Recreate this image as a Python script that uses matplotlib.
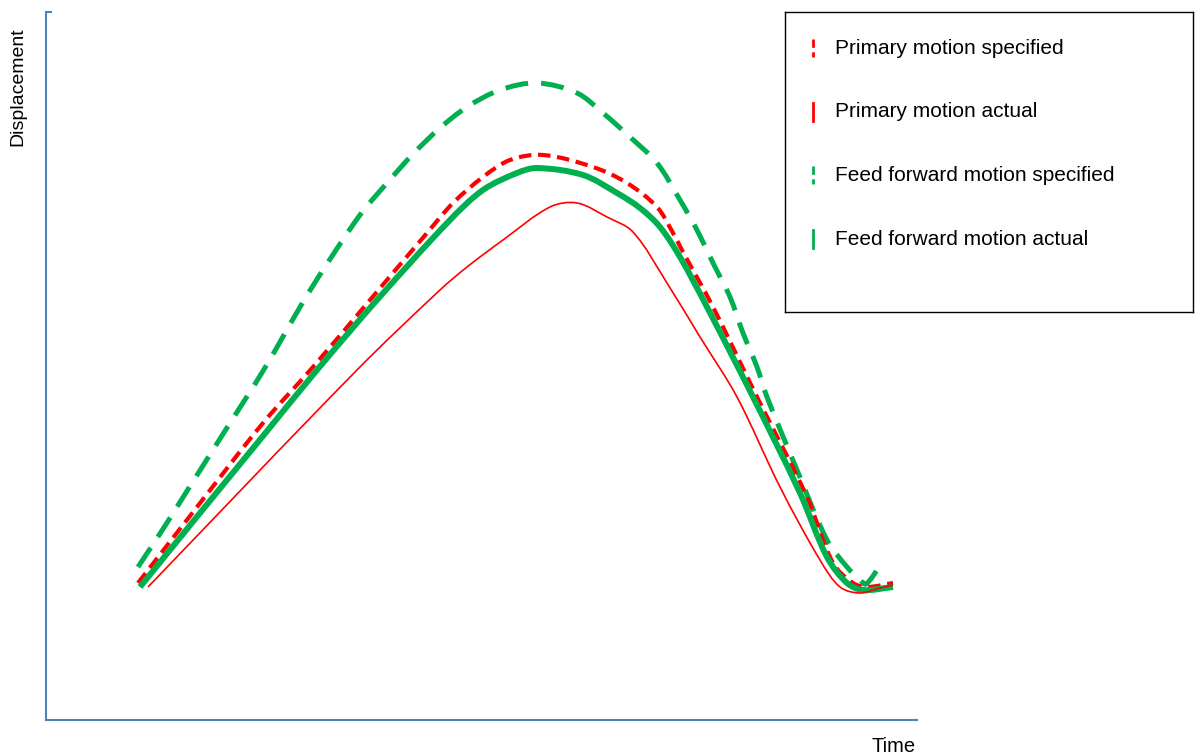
import matplotlib
matplotlib.use("Agg")
import numpy as np
import matplotlib.pyplot as plt
from matplotlib.lines import Line2D
from matplotlib.path import Path
from matplotlib.patches import PathPatch

plt.rcParams['font.family'] = ['Liberation Sans', 'DejaVu Sans']

# Time / displacement samples (arbitrary units) for each motion trace
ff_spec_t = [92, 117, 141, 177, 217, 257, 277, 314, 341, 367, 394, 421, 454, 491,
             531, 557, 584, 611, 634, 651, 667, 684, 697, 711, 721, 751, 781,
             801, 814, 820, 834]
ff_spec_d = [153, 191, 229, 286, 349, 418, 450, 505, 537, 566, 592, 613, 630, 637,
             627, 607, 583, 557, 520, 490, 457, 423, 387, 353, 323, 250, 180,
             153, 140, 136, 154]

prim_spec_t = [92, 151, 217, 267, 324, 381, 407, 437, 464, 497, 547, 581, 611,
               627, 637, 667, 711, 761, 787, 807, 821, 847]
prim_spec_d = [137, 213, 297, 353, 420, 487, 517, 543, 560, 565, 553, 537, 513,
               487, 468, 413, 323, 223, 157, 137, 133, 137]

ff_act_t = [94, 154, 217, 271, 331, 404, 437, 471, 491, 537, 571, 594, 614,
            634, 661, 707, 754, 781, 801, 817, 847]
ff_act_d = [133, 207, 284, 350, 420, 500, 530, 547, 552, 545, 527, 512, 493,
            463, 413, 323, 227, 163, 137, 130, 133]

prim_act_t = [102, 311, 394, 421, 457, 504, 531, 561, 587, 621, 654, 691, 734,
              774, 794, 814, 834, 847]
prim_act_d = [133, 350, 430, 453, 480, 513, 517, 503, 488, 437, 383, 323, 233,
              160, 133, 127, 132, 135]

labels = ["Primary motion specified", "Primary motion actual",
          "Feed forward motion specified", "Feed forward motion actual"]

RED = "#FF0000"
GREEN = "#00B050"
AXIS_BLUE = "#4F81BD"


def smooth_path(xs, ys):
    """Cubic Bezier path through the points, tangents scaled by chord length."""
    p = np.column_stack([xs, ys]).astype(float)
    n = len(p)
    seg = np.linalg.norm(np.diff(p, axis=0), axis=1)
    tang = np.zeros_like(p)
    for i in range(n):
        if i == 0:
            tang[i] = (p[1] - p[0]) / seg[0]
        elif i == n - 1:
            tang[i] = (p[-1] - p[-2]) / seg[-1]
        else:
            tang[i] = (p[i + 1] - p[i - 1]) / (seg[i - 1] + seg[i])
    verts = [p[0]]
    codes = [Path.MOVETO]
    for i in range(n - 1):
        L = seg[i] / 3.0
        verts += [p[i] + tang[i] * L, p[i + 1] - tang[i + 1] * L, p[i + 1]]
        codes += [Path.CURVE4] * 3
    return Path(verts, codes)


W, H = 1195, 755
fig = plt.figure(figsize=(W / 100, H / 100), dpi=100)
ax = fig.add_axes([46 / W, 35 / H, 871 / W, 708 / H])
ax.set_xlim(0, 871)
ax.set_ylim(0, 708)

series = [
    (ff_spec_t, ff_spec_d, dict(color=GREEN, lw=3.6, ls=(0, (4.6, 2.6)))),
    (prim_spec_t, prim_spec_d, dict(color=RED, lw=3.0, ls=(0, (3.0, 1.6)))),
    (ff_act_t, ff_act_d, dict(color=GREEN, lw=4.3, ls='-')),
    (prim_act_t, prim_act_d, dict(color=RED, lw=1.2, ls='-')),
]
for xs, ys, st in series:
    ax.add_patch(PathPatch(smooth_path(xs, ys), fill=False, edgecolor=st['color'],
                           lw=st['lw'], ls=st['ls'], capstyle='butt',
                           joinstyle='round'))

for s in ('top', 'right'):
    ax.spines[s].set_visible(False)
for s in ('left', 'bottom'):
    ax.spines[s].set_color(AXIS_BLUE)
    ax.spines[s].set_linewidth(1.5)
ax.set_xticks([])
ax.set_yticks([708])
ax.set_yticklabels([])
ax.tick_params(axis='y', direction='in', length=4, width=1.5, color=AXIS_BLUE)

fig.text(18 / W, 1 - 27 / H, "Displacement", rotation=90, ha='center', va='top',
         fontsize=14)
fig.text(916 / W, 1 - 746 / H, "Time", ha='right', va='center', fontsize=14.5)

# Legend panel with short vertical keys
lax = fig.add_axes([785 / W, 1 - 312 / H, 408 / W, 300 / H])
lax.set_xlim(0, 408)
lax.set_ylim(300, 0)
lax.set_xticks([])
lax.set_yticks([])
for s in lax.spines.values():
    s.set_color('black')
    s.set_linewidth(1.0)

key_styles = [
    dict(color=RED, lw=2.0, dashes=(3.0, 1.6)),
    dict(color=RED, lw=2.0),
    dict(color=GREEN, lw=2.0, dashes=(3.0, 1.6)),
    dict(color=GREEN, lw=2.0),
]
for i, (lab, st) in enumerate(zip(labels, key_styles)):
    yc = 36 + i * 63.7
    lax.add_line(Line2D([28, 28], [yc - 9, yc + 9], **st))
    lax.text(50, yc, lab, fontsize=15, va='center', ha='left')

fig.savefig("out.png", dpi=100)
